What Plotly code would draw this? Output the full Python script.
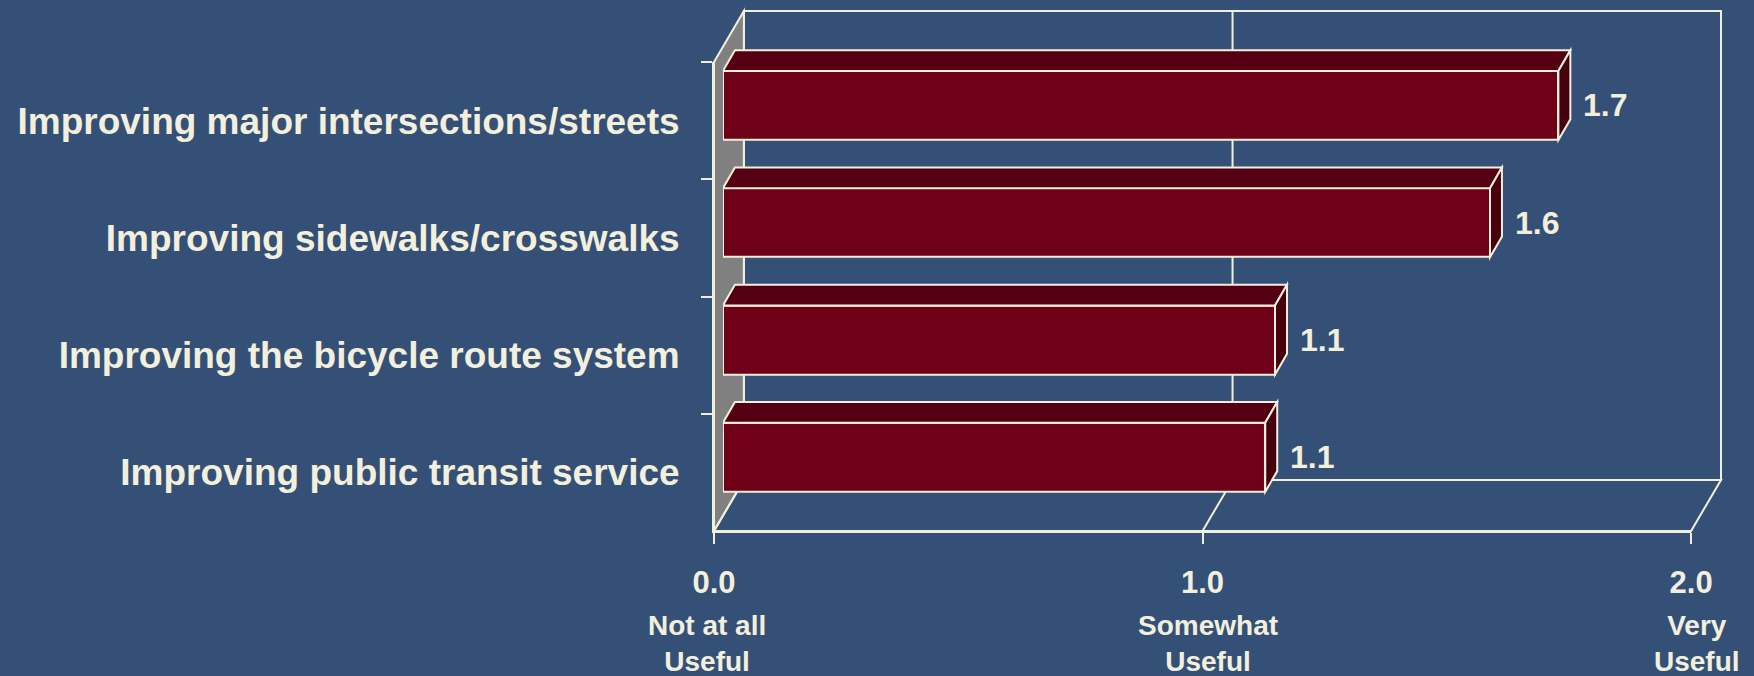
import plotly.graph_objects as go

# ---- data -------------------------------------------------------------
categories = [
    "Improving major intersections/streets",
    "Improving sidewalks/crosswalks",
    "Improving the bicycle route system",
    "Improving public transit service",
]
usefulness = [1.71, 1.57, 1.13, 1.11]
x_tick_vals = [0, 1, 2]
x_tick_text = ["0.0", "1.0", "2.0"]
scale_words = ["Not at all<br>Useful", "Somewhat<br>Useful", "Very<br>Useful"]
scale_word_shift = [-7, 5, 6]
gridline_vals = [1]

# ---- styling / geometry ----------------------------------------------
FIG_W, FIG_H = 1754, 676
L, R, T, B = 714, 1724, 11, 531          # outer box of the 3-D plot area
W, H = R - L, B - T
DEPTH_X, DEPTH_Y = 30, 51                 # oblique depth of the whole box (px)
BAR_DX, BAR_DY = 12, 20.7                 # oblique depth of a bar (px)
OFF_X = (DEPTH_X - BAR_DX) / 2            # bars sit mid-depth
OFF_Y = (DEPTH_Y - BAR_DY) / 2
BAR_WIDTH = 0.59
X_RANGE = [0, 2]
Y_RANGE = [len(categories) - 0.5, -0.5]

BG = "#355076"
CREAM = "#F3EFDD"
BAR_FRONT = "#6E0017"
BAR_TOP = "#550012"
BAR_SIDE = "#47000E"
WALL = "#808080"
FONT = "Liberation Sans, Arial, sans-serif"

front_x_dom = [0, (W - DEPTH_X) / W]
front_y_dom = [0, (H - DEPTH_Y) / H]
bar_x_dom = [OFF_X / W, (W - DEPTH_X + OFF_X) / W]
bar_y_dom = [OFF_Y / H, (H - DEPTH_Y + OFF_Y) / H]

# bar depth expressed in data units of the bar plane
px_per_x = (W - DEPTH_X) / (X_RANGE[1] - X_RANGE[0])
px_per_y = (H - DEPTH_Y) / abs(Y_RANGE[0] - Y_RANGE[1])
ddx = BAR_DX / px_per_x
ddy = BAR_DY / px_per_y

fig = go.Figure()

# anchor trace for the category axis on the front plane
fig.add_trace(go.Scatter(
    x=[0] * len(categories), y=categories, mode="markers",
    marker=dict(opacity=0), hoverinfo="skip", showlegend=False,
    xaxis="x", yaxis="y",
))

# bars on the mid-depth plane
fig.add_trace(go.Bar(
    x=usefulness, y=list(range(len(categories))), orientation="h",
    width=BAR_WIDTH,
    marker=dict(color=BAR_FRONT, line=dict(color=CREAM, width=2)),
    hovertext=categories, hoverinfo="text+x", showlegend=False,
    xaxis="x2", yaxis="y2",
))

shapes = []
# left side wall
shapes.append(dict(
    type="path", xref="paper", yref="paper", layer="below",
    path=(f"M 0,0 L {DEPTH_X / W},{DEPTH_Y / H} L {DEPTH_X / W},1 "
          f"L 0,{(H - DEPTH_Y) / H} Z"),
    fillcolor=WALL, line=dict(color=CREAM, width=2),
))
# back wall
shapes.append(dict(
    type="rect", xref="paper", yref="paper", layer="below",
    x0=DEPTH_X / W, x1=1, y0=DEPTH_Y / H, y1=1,
    line=dict(color=CREAM, width=2), fillcolor="rgba(0,0,0,0)",
))
# floor
shapes.append(dict(
    type="path", xref="paper", yref="paper", layer="below",
    path=(f"M 0,0 L {(W - DEPTH_X) / W},0 L 1,{DEPTH_Y / H} "
          f"L {DEPTH_X / W},{DEPTH_Y / H} Z"),
    line=dict(color=CREAM, width=2), fillcolor="rgba(0,0,0,0)",
))
# value gridlines: on the back wall and across the floor
for g in gridline_vals:
    shapes.append(dict(
        type="line", xref="x", yref="paper", layer="below",
        xsizemode="pixel", xanchor=g, x0=DEPTH_X, x1=DEPTH_X,
        y0=DEPTH_Y / H, y1=1, line=dict(color=CREAM, width=2),
    ))
    shapes.append(dict(
        type="line", xref="x", yref="paper", layer="below",
        xsizemode="pixel", xanchor=g, x0=0, x1=DEPTH_X,
        y0=0, y1=DEPTH_Y / H, line=dict(color=CREAM, width=2),
    ))

# top and right faces of each bar
for i, v in enumerate(usefulness):
    yt = i - BAR_WIDTH / 2
    yb = i + BAR_WIDTH / 2
    shapes.append(dict(
        type="path", xref="x2", yref="y2", layer="above",
        path=f"M 0,{yt} L {v},{yt} L {v + ddx},{yt - ddy} L {ddx},{yt - ddy} Z",
        fillcolor=BAR_TOP, line=dict(color=CREAM, width=2),
    ))
    shapes.append(dict(
        type="path", xref="x2", yref="y2", layer="above",
        path=f"M {v},{yt} L {v + ddx},{yt - ddy} L {v + ddx},{yb - ddy} L {v},{yb} Z",
        fillcolor=BAR_SIDE, line=dict(color=CREAM, width=2),
    ))

annotations = []
# value labels
for i, v in enumerate(usefulness):
    annotations.append(dict(
        x=v, y=i, xref="x2", yref="y2", text=f"{v:.1f}",
        xanchor="left", yanchor="middle", xshift=23, showarrow=False,
        font=dict(family=FONT, size=32, color=CREAM, weight="bold"),
    ))
# scale descriptions under the value ticks
for xv, word, sh in zip(x_tick_vals, scale_words, scale_word_shift):
    annotations.append(dict(
        x=xv, y=(B - 643) / H, xref="x", yref="paper", text=word,
        xanchor="center", yanchor="middle", xshift=sh, showarrow=False,
        font=dict(family=FONT, size=28, color=CREAM, weight="bold"),
    ))

axis_common = dict(showgrid=False, zeroline=False)

fig.update_layout(
    width=FIG_W, height=FIG_H,
    margin=dict(l=L, r=FIG_W - R, t=T, b=FIG_H - B, pad=0),
    paper_bgcolor=BG, plot_bgcolor="rgba(0,0,0,0)",
    showlegend=False,
    xaxis=dict(
        **axis_common, domain=front_x_dom, range=X_RANGE, anchor="y",
        tickvals=x_tick_vals, ticktext=x_tick_text,
        showline=True, linecolor=CREAM, linewidth=2,
        ticks="outside", ticklen=11, tickwidth=1.5, tickcolor=CREAM,
        tickfont=dict(family=FONT, size=31, color=CREAM, weight="bold"),
        ticklabelstandoff=12,
    ),
    yaxis=dict(
        **axis_common, domain=front_y_dom, range=Y_RANGE, anchor="x",
        type="category", categoryorder="array", categoryarray=categories,
        tickson="boundaries",
        showline=True, linecolor=CREAM, linewidth=2,
        ticks="outside", ticklen=11, tickwidth=1.5, tickcolor=CREAM,
        tickfont=dict(family=FONT, size=37, color=CREAM, weight="bold"),
        ticklabelstandoff=25,
    ),
    xaxis2=dict(**axis_common, domain=bar_x_dom, range=X_RANGE,
                anchor="y2", visible=False),
    yaxis2=dict(**axis_common, domain=bar_y_dom, range=Y_RANGE,
                anchor="x2", visible=False),
    shapes=shapes,
    annotations=annotations,
    bargap=0,
)

fig.write_html("out.html")
